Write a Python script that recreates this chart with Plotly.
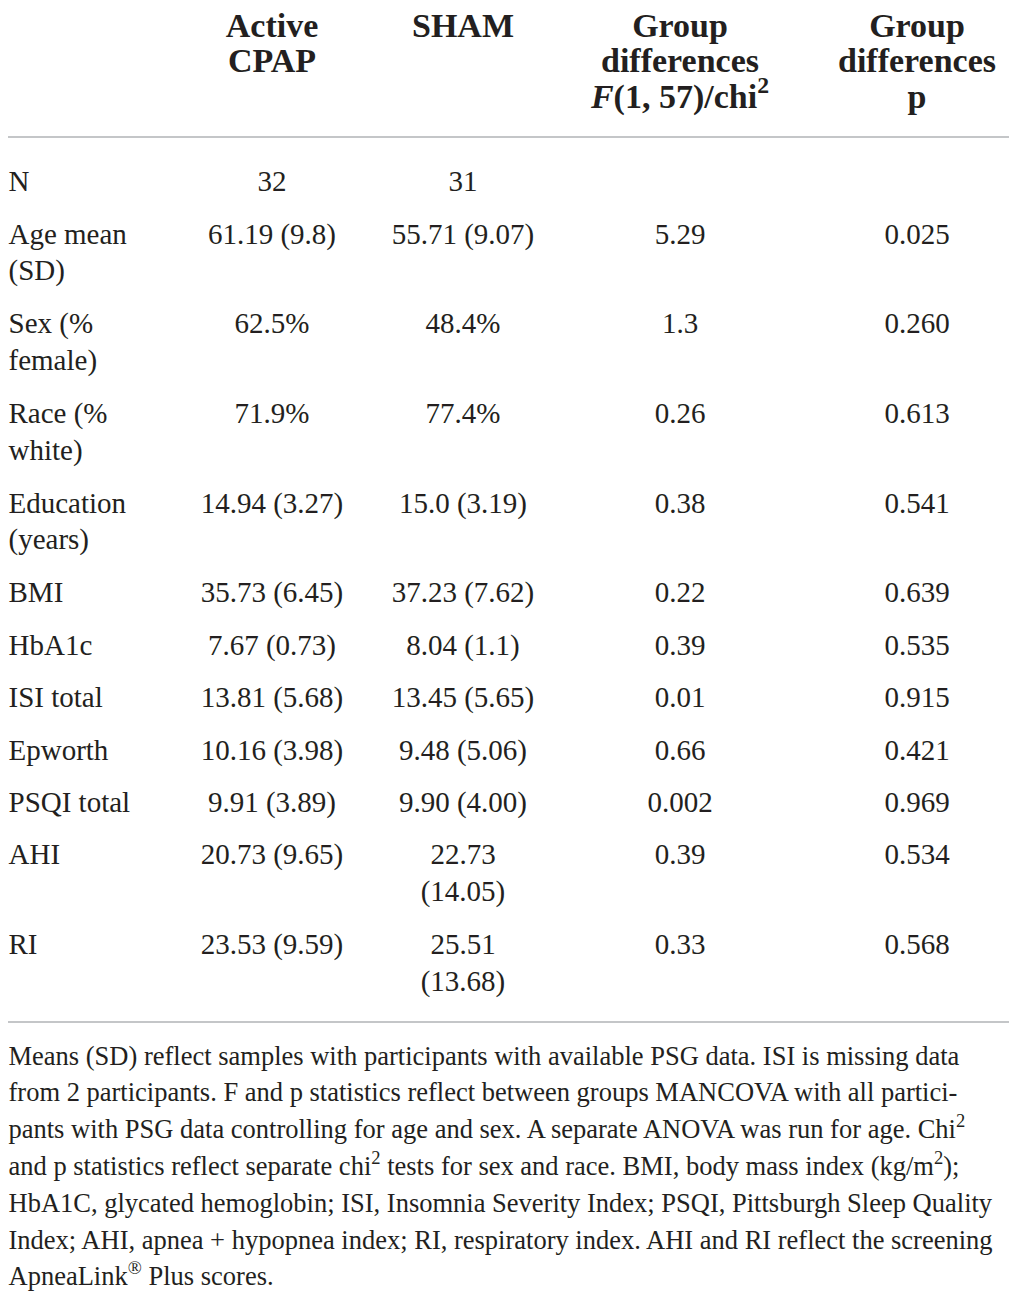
import plotly.graph_objects as go

# table content
headers = ["", "Active<br>CPAP", "SHAM",
           "Group<br>differences<br><i>F</i>(1, 57)/chi<sup>2</sup>",
           "Group<br>differences<br>p"]
labels = ["N", "Age mean<br>(SD)", "Sex (%<br>female)", "Race (%<br>white)",
          "Education<br>(years)", "BMI", "HbA1c", "ISI total", "Epworth",
          "PSQI total", "AHI", "RI"]
active = ["32", "61.19 (9.8)", "62.5%", "71.9%", "14.94 (3.27)", "35.73 (6.45)",
          "7.67 (0.73)", "13.81 (5.68)", "10.16 (3.98)", "9.91 (3.89)",
          "20.73 (9.65)", "23.53 (9.59)"]
sham = ["31", "55.71 (9.07)", "48.4%", "77.4%", "15.0 (3.19)", "37.23 (7.62)",
        "8.04 (1.1)", "13.45 (5.65)", "9.48 (5.06)", "9.90 (4.00)",
        "22.73<br>(14.05)", "25.51<br>(13.68)"]
f_chi = ["", "5.29", "1.3", "0.26", "0.38", "0.22", "0.39", "0.01", "0.66",
         "0.002", "0.39", "0.33"]
p_vals = ["", "0.025", "0.260", "0.613", "0.541", "0.639", "0.535", "0.915",
          "0.421", "0.969", "0.534", "0.568"]

footnote = [
    "Means (SD) reflect samples with participants with available PSG data. ISI is missing data",
    "from 2 participants. F and p statistics reflect between groups MANCOVA with all partici-",
    "pants with PSG data controlling for age and sex. A separate ANOVA was run for age. Chi<sup>2</sup>",
    "and p statistics reflect separate chi<sup>2</sup> tests for sex and race. BMI, body mass index (kg/m<sup>2</sup>);",
    "HbA1C, glycated hemoglobin; ISI, Insomnia Severity Index; PSQI, Pittsburgh Sleep Quality",
    "Index; AHI, apnea + hypopnea index; RI, respiratory index. AHI and RI reflect the screening",
    "ApneaLink<sup>®</sup> Plus scores.",
]

# page body has an 8px margin, so keep figure inside the window and
# let the axes run in window pixels
W, H, OFF = 1001, 1284, 8
ink = "#231f20"
rule = "#b1b3b6"
serif = "Liberation Serif"

col_x = [8.5, 272, 463, 680, 917]
head_top, head_step = 28, 35.5
body_top, line_step, row_gap = 184, 36.5, 52.4
foot_top, foot_step = 1058, 36.8

columns = [labels, active, sham, f_chi, p_vals]

# vertical position of every line inside the body rows
row_y = []
y = body_top
for lab_i in range(len(labels)):
    row_y.append(y)
    n = max(len(col[lab_i].split("<br>")) for col in columns)
    y += row_gap + (n - 1) * (line_step + 0.8)

fig = go.Figure()


def add_text(xs, ys, texts, pos, size, bold=False):
    fig.add_trace(go.Scatter(
        x=xs, y=ys, text=texts, mode="text", textposition=pos,
        textfont=dict(family=serif, size=size, color=ink,
                      weight="bold" if bold else "normal"),
        hoverinfo="skip", showlegend=False, cliponaxis=False,
    ))


for ci, col in enumerate(columns):
    pos = "middle right" if ci == 0 else "middle center"
    # header lines
    hx, hy, ht = [], [], []
    for li, part in enumerate(headers[ci].split("<br>")):
        if part:
            hx.append(col_x[ci])
            hy.append(head_top + li * head_step)
            ht.append(part)
    if ht:
        add_text(hx, hy, ht, pos, 34, bold=True)
    # body lines
    bx, by, bt = [], [], []
    for ri, cell in enumerate(col):
        for li, part in enumerate(cell.split("<br>")):
            if part:
                bx.append(col_x[ci])
                by.append(row_y[ri] + li * line_step)
                bt.append(part)
    add_text(bx, by, bt, pos, 29)

add_text([col_x[0]] * len(footnote),
         [foot_top + i * foot_step for i in range(len(footnote))],
         footnote, "middle right", 26.5)

# horizontal rules under the header and under the last row
for ypx in [137, 1022]:
    fig.add_shape(type="line", xref="x", yref="y",
                  x0=5, x1=1012, y0=ypx, y1=ypx,
                  line=dict(color=rule, width=1.5))

fig.update_xaxes(range=[OFF, OFF + W], visible=False, fixedrange=True)
fig.update_yaxes(range=[OFF + H, OFF], visible=False, fixedrange=True)
fig.update_layout(
    width=W, height=H,
    margin=dict(l=0, r=0, t=0, b=0),
    paper_bgcolor="white",
    plot_bgcolor="white",
)

fig.write_html("out.html")
